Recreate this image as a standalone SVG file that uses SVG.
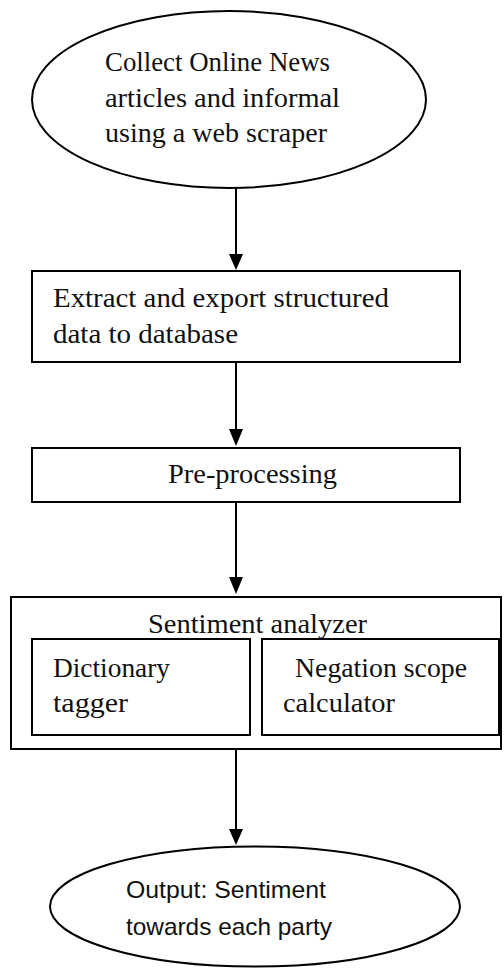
<svg xmlns="http://www.w3.org/2000/svg" width="504" height="968" viewBox="0 0 504 968">
<defs>
<style>
.shape{fill:#fff;stroke:#000;stroke-width:2}
.serif{font-family:"Liberation Serif","DejaVu Serif",serif;font-size:27px;fill:#111}
.sans{font-family:"Liberation Sans","DejaVu Sans",sans-serif;font-size:24px;fill:#111}
.conn{stroke:#000;stroke-width:2;fill:none}
</style>
</defs>
<g id="connectors">
<line class="conn" x1="236" y1="188" x2="236" y2="254"/>
<path d="M229,254 L243,254 L236,270 Z" fill="#000"/>
<line class="conn" x1="236" y1="362" x2="236" y2="430"/>
<path d="M229,429 L243,429 L236,446 Z" fill="#000"/>
<line class="conn" x1="236" y1="502" x2="236" y2="578"/>
<path d="M229,577 L243,577 L236,594 Z" fill="#000"/>
<line class="conn" x1="236" y1="749" x2="236" y2="830"/>
<path d="M229,829 L243,829 L236,845 Z" fill="#000"/>
</g>
<g id="collect">
<ellipse class="shape" cx="229" cy="99.5" rx="197" ry="88.5"/>
<text class="serif" x="105" y="71" textLength="225" lengthAdjust="spacingAndGlyphs">Collect Online News</text>
<text class="serif" x="105" y="107" textLength="235" lengthAdjust="spacingAndGlyphs">articles and informal</text>
<text class="serif" x="105" y="142" textLength="222" lengthAdjust="spacingAndGlyphs">using a web scraper</text>
</g>
<g id="extract">
<rect class="shape" x="32" y="271" width="428" height="91"/>
<text class="serif" x="53" y="307" textLength="336" lengthAdjust="spacingAndGlyphs">Extract and export structured</text>
<text class="serif" x="53" y="343" textLength="185" lengthAdjust="spacingAndGlyphs">data to database</text>
</g>
<g id="preprocessing">
<rect class="shape" x="32" y="448" width="428" height="54"/>
<text class="serif" x="168" y="483" textLength="169" lengthAdjust="spacingAndGlyphs">Pre-processing</text>
</g>
<g id="sentiment">
<rect class="shape" x="11" y="597" width="490" height="152"/>
<text class="serif" x="148" y="633" textLength="219" lengthAdjust="spacingAndGlyphs">Sentiment analyzer</text>
<g id="dictionary">
<rect class="shape" x="32" y="639" width="218" height="96"/>
<text class="serif" x="53" y="677" textLength="117" lengthAdjust="spacingAndGlyphs">Dictionary</text>
<text class="serif" x="53" y="712" textLength="75" lengthAdjust="spacingAndGlyphs">tagger</text>
</g>
<g id="negation">
<rect class="shape" x="262" y="639" width="237" height="96"/>
<text class="serif" x="295" y="677" textLength="172" lengthAdjust="spacingAndGlyphs">Negation scope</text>
<text class="serif" x="283" y="712" textLength="112" lengthAdjust="spacingAndGlyphs">calculator</text>
</g>
</g>
<g id="output">
<ellipse class="shape" cx="255" cy="906.5" rx="205" ry="60"/>
<text class="sans" x="126" y="898" textLength="200" lengthAdjust="spacingAndGlyphs">Output: Sentiment</text>
<text class="sans" x="126" y="935" textLength="206" lengthAdjust="spacingAndGlyphs">towards each party</text>
</g>
</svg>
